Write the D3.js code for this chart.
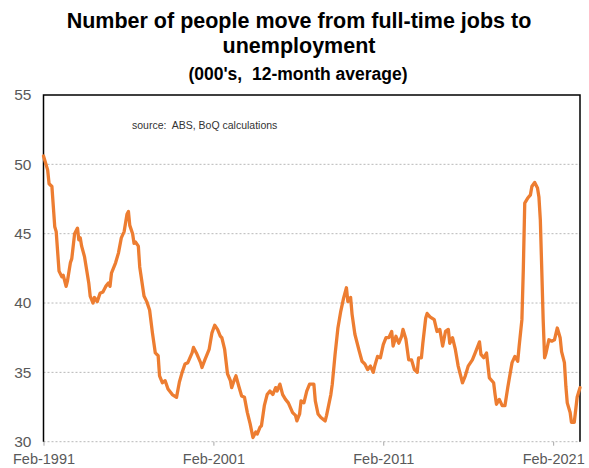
<!DOCTYPE html>
<html>
<head>
<meta charset="utf-8">
<script src="https://cdn.jsdelivr.net/npm/d3@7"></script>
<style>
  html, body { margin: 0; padding: 0; background: #fff; }
  svg { display: block; font-family: "Liberation Sans", Arial, sans-serif; }
  text { white-space: pre; }
</style>
</head>
<body>
<svg id="chart" width="589" height="468"></svg>
<script>
const titleLines = ["Number of people move from full-time jobs to", "unemployment"];
const subtitle = "(000's,  12-month average)";
const sourceNote = "source:  ABS, BoQ calculations";

const yTicks = [30, 35, 40, 45, 50, 55];
const xTickLabels = ["Feb-1991", "Feb-2001", "Feb-2011", "Feb-2021"];

const months = [
"1991-02","1991-05","1991-06","1991-08","1991-10","1991-11","1992-01","1992-03","1992-04","1992-06",
"1992-07","1992-09","1992-10","1992-12","1993-02","1993-03","1993-04","1993-05","1993-07","1993-10",
"1993-11","1994-01","1994-02","1994-04","1994-06","1994-08","1994-10","1994-12","1995-01","1995-02",
"1995-05","1995-07","1995-09","1995-11","1996-01","1996-02","1996-03","1996-05","1996-06","1996-07",
"1996-09","1996-10","1997-01","1997-03","1997-05","1997-07","1997-09","1997-11","1997-12","1998-02",
"1998-04","1998-06","1998-09","1998-12","1999-02","1999-04","1999-06","1999-08","1999-11","1999-12",
"2000-02","2000-05","2000-06","2000-08","2000-11","2001-01","2001-03","2001-05","2001-07","2001-08",
"2001-10","2001-12","2002-02","2002-03","2002-05","2002-06","2002-08","2002-10","2002-12","2003-02",
"2003-04","2003-06","2003-08","2003-09","2003-11","2003-12","2004-02","2004-04","2004-06","2004-08",
"2004-10","2004-11","2005-01","2005-03","2005-05","2005-07","2005-10","2005-12","2006-01","2006-03",
"2006-04","2006-06","2006-08","2006-10","2007-01","2007-02","2007-04","2007-06","2007-09","2007-10",
"2008-01","2008-02","2008-04","2008-06","2008-08","2008-10","2008-12","2009-01","2009-03","2009-04",
"2009-06","2009-09","2009-11","2010-01","2010-03","2010-05","2010-07","2010-08","2010-10","2010-12",
"2011-02","2011-04","2011-06","2011-08","2011-09","2011-11","2012-01","2012-03","2012-04","2012-06",
"2012-08","2012-10","2012-12","2013-02","2013-03","2013-05","2013-06","2013-08","2013-09","2013-11",
"2014-02","2014-04","2014-06","2014-08","2014-10","2014-12","2015-01","2015-03","2015-05","2015-07",
"2015-10","2015-12","2016-02","2016-05","2016-07","2016-10","2016-11","2017-01","2017-03","2017-05",
"2017-08","2017-09","2017-10","2017-12","2018-02","2018-04","2018-06","2018-07","2018-09","2018-11",
"2019-01","2019-02","2019-04","2019-05","2019-06","2019-08","2019-10","2019-11","2020-01","2020-03",
"2020-04","2020-05","2020-06","2020-07","2020-08","2020-09","2020-11","2021-01","2021-03","2021-05",
"2021-07","2021-08","2021-10","2021-11","2021-12","2022-02","2022-03","2022-05","2022-07","2022-09"
];

const values = [
50.6,49.6,48.6,48.4,45.5,45.15,42.3,41.9,42.0,41.2,
41.6,42.9,43.2,45.0,45.4,44.55,44.7,44.1,43.35,41.45,
40.5,40.0,40.4,40.1,40.7,40.8,41.2,41.45,41.2,42.15,
42.9,43.6,44.7,45.15,46.4,46.6,45.6,45.0,44.3,44.4,
44.1,42.6,40.5,40.1,39.5,37.85,36.4,36.2,34.75,34.25,
34.4,33.8,33.4,33.2,34.3,35.0,35.6,35.7,36.4,36.8,
36.4,35.7,35.35,35.9,36.65,37.85,38.4,38.1,37.6,37.5,
36.65,34.9,34.4,33.9,34.5,34.75,34.0,33.3,33.2,32.1,
31.3,30.3,30.7,30.55,31.05,31.15,32.6,33.4,33.65,33.4,
33.9,33.65,34.15,33.4,33.05,32.8,32.1,31.9,31.5,32.0,
32.95,32.8,33.65,34.15,34.15,32.95,32.0,31.75,31.5,31.9,
33.4,34.15,36.3,38.2,39.4,40.35,41.1,40.1,40.4,39.2,
37.75,36.55,35.8,35.6,35.2,35.45,35.0,35.45,36.15,36.05,
37.0,37.5,37.5,37.95,36.9,37.6,37.1,37.6,38.1,37.4,
35.9,35.9,35.2,35.0,36.05,36.05,37.1,38.9,39.25,39.0,
38.8,37.95,38.1,36.9,37.95,38.1,37.1,37.5,36.65,35.45,
34.25,34.75,35.45,35.9,36.4,37.2,36.3,36.05,36.4,34.6,
34.25,33.4,32.7,33.05,32.6,32.6,33.9,34.5,35.7,36.15,
35.8,36.9,38.8,42.4,47.2,47.55,47.8,48.4,48.7,48.3,
47.65,46.0,42.4,38.8,36.05,36.4,37.35,37.25,37.35,38.2,
37.5,36.5,35.7,34.0,32.8,32.1,31.4,31.4,33.2,33.9
];

const parseMonth = d3.timeParse("%Y-%m");
const parseTick = d3.timeParse("%b-%Y");
const data = months.map((m, i) => ({ date: parseMonth(m), value: values[i] }));

const svg = d3.select("#chart");
const margin = { left: 43.5, right: 580, top: 95, bottom: 441.7 };

const x = d3.scaleTime()
  .domain([parseMonth("1991-02"), parseMonth("2022-09")])
  .range([margin.left, margin.right]);
const y = d3.scaleLinear().domain([30, 55]).range([margin.bottom, margin.top]);

// Titles
const title = svg.append("g").attr("font-weight", "bold").attr("fill", "#000").attr("text-anchor", "middle");
title.selectAll("text.t").data(titleLines).join("text")
  .attr("class", "t")
  .attr("x", 299).attr("y", (d, i) => 28 + i * 25)
  .attr("font-size", "21.5px").text(d => d);
title.append("text").attr("x", 298).attr("y", 80).attr("font-size", "17.5px").text(subtitle);

// Gridlines
svg.append("g").selectAll("line").data(yTicks.filter(v => v < 55)).join("line")
  .attr("x1", margin.left).attr("x2", margin.right)
  .attr("y1", d => y(d)).attr("y2", d => y(d))
  .attr("stroke", "#b8b8b8").attr("stroke-width", 1).attr("stroke-dasharray", "2,2");

// X axis ticks
const xAxis = d3.axisBottom(x)
  .tickValues(xTickLabels.map(parseTick))
  .tickFormat(d3.timeFormat("%b-%Y"))
  .tickSize(4).tickPadding(8);
const gx = svg.append("g").attr("transform", `translate(0,${margin.bottom})`).call(xAxis);
gx.select(".domain").remove();
gx.selectAll(".tick line").attr("stroke", "#a6a6a6");
gx.selectAll(".tick text").attr("fill", "#595959").attr("font-size", "14.5px")
  .attr("font-family", "Liberation Sans, Arial, sans-serif");

// Y axis
const yAxis = d3.axisLeft(y).tickValues(yTicks).tickSize(0).tickPadding(12);
const gy = svg.append("g").attr("transform", `translate(${margin.left},0)`).call(yAxis);
gy.select(".domain").remove();
gy.selectAll(".tick text").attr("fill", "#595959").attr("font-size", "15.5px")
  .attr("font-family", "Liberation Sans, Arial, sans-serif");

// Plot frame (top, left, right)
svg.append("path")
  .attr("d", `M${margin.left},${margin.bottom}V${margin.top}H${margin.right}V${margin.bottom}`)
  .attr("fill", "none").attr("stroke", "#000").attr("stroke-width", 1.5);

// Source
svg.append("text").attr("x", 132).attr("y", 129).attr("font-size", "10.5px")
  .attr("fill", "#333").text(sourceNote);

// Line
const line = d3.line().x(d => x(d.date)).y(d => y(d.value)).curve(d3.curveLinear);
svg.append("path").datum(data)
  .attr("d", line).attr("fill", "none")
  .attr("stroke", "#ED7D31").attr("stroke-width", 3.3)
  .attr("stroke-linejoin", "round").attr("stroke-linecap", "round");
</script>
</body>
</html>
